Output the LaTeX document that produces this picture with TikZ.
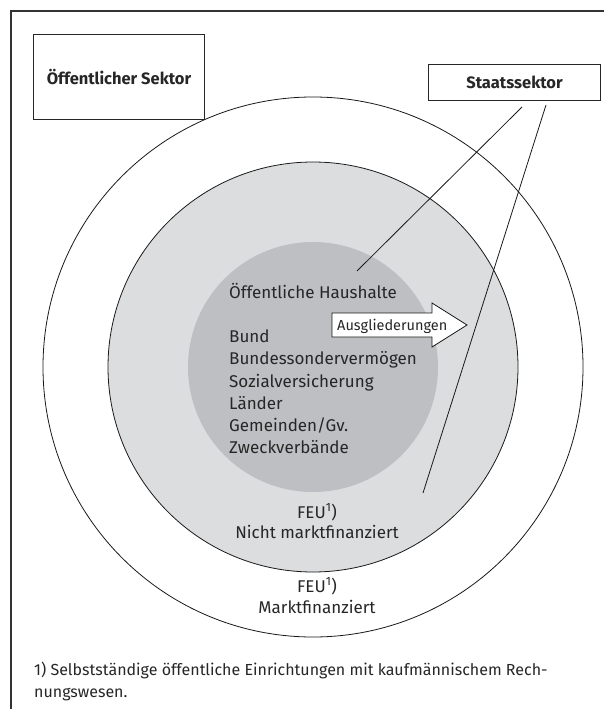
\documentclass[tikz,border=0pt]{standalone}
\usepackage{fontspec}
\setmainfont{Fira Sans}
\begin{document}
\begin{tikzpicture}[x=1pt,y=-1pt,
  ln/.style={draw=black!90, line width=0.8pt},
  boxlbl/.style={draw=black!85, line width=1pt, font=\fontsize{16.5}{19}\selectfont\bfseries, inner sep=0pt, anchor=north west, text=black!85},
  inlbl/.style={font=\fontsize{17}{20}\selectfont, anchor=base west, inner sep=0pt, text=black!85},
  ctrlbl/.style={font=\fontsize{17}{20}\selectfont, anchor=base, inner sep=0pt, text=black!85},
  notelbl/.style={font=\fontsize{16}{19}\selectfont, anchor=base west, inner sep=0pt, text=black!85}]
\useasboundingbox (0,0) rectangle (604,709);
\definecolor{midgray}{HTML}{DCDDDF}
\definecolor{ingray}{HTML}{BEBFC2}
% frame (top and left)
\coordinate (ftr) at (604,11);
\coordinate (ftl) at (11,11);
\coordinate (fbl) at (11,709);
\draw[draw=black!80, line width=1.3pt] (ftr) -- (ftl) -- (fbl);
% circles
\coordinate (c) at (313,367);
\draw[ln, fill=white] (c) circle[radius=270pt];
\draw[ln, fill=midgray] (c) circle[radius=205pt];
\fill[ingray] (c) circle[radius=125pt];
% boxes
\node[boxlbl, minimum width=171pt, minimum height=85pt] (oes) at (33,34) {Öffentlicher Sektor};
\node[boxlbl, minimum width=172pt, minimum height=36pt] (sts) at (428,64) {Staatssektor};
% connectors
\coordinate (s1) at (522,107);
\coordinate (s2) at (546,105);
\coordinate (e1) at (357,271);
\coordinate (e2) at (423,493);
\draw[ln] (s1) -- (e1);
\draw[ln] (s2) -- (e2);
% inner texts
\node[inlbl] (oh) at (229,298) {Öffentliche Haushalte};
\node[inlbl] (t1) at (229,342) {Bund};
\node[inlbl] (t2) at (229,364) {Bundessondervermögen};
\node[inlbl] (t3) at (229,387) {Sozialversicherung};
\node[inlbl] (t4) at (229,409) {Länder};
\node[inlbl] (t5) at (229,431) {Gemeinden/Gv.};
\node[inlbl] (t6) at (229,453) {Zweckverbände};
% arrow
\draw[ln, fill=white] (332,313) -- (432,313) -- (432,303) -- (467,325) -- (432,347) -- (432,337) -- (332,337) -- cycle;
\node[font=\fontsize{14.5}{17}\selectfont, anchor=base west, inner sep=0pt, text=black!85] (aus) at (337,330) {Ausgliederungen};
% FEU texts
\node[ctrlbl] (f1) at (317,518) {FEU\textsuperscript{1})};
\node[ctrlbl] (f2) at (317,538) {Nicht marktfinanziert};
\node[ctrlbl] (f3) at (317,592) {FEU\textsuperscript{1})};
\node[ctrlbl] (f4) at (317,613) {Marktfinanziert};
% footnote
\node[notelbl] (n1) at (34,675) {1) Selbstständige öffentliche Einrichtungen mit kaufmännischem Rech-};
\node[notelbl] (n2) at (34,697) {nungswesen.};
\end{tikzpicture}
\end{document}
